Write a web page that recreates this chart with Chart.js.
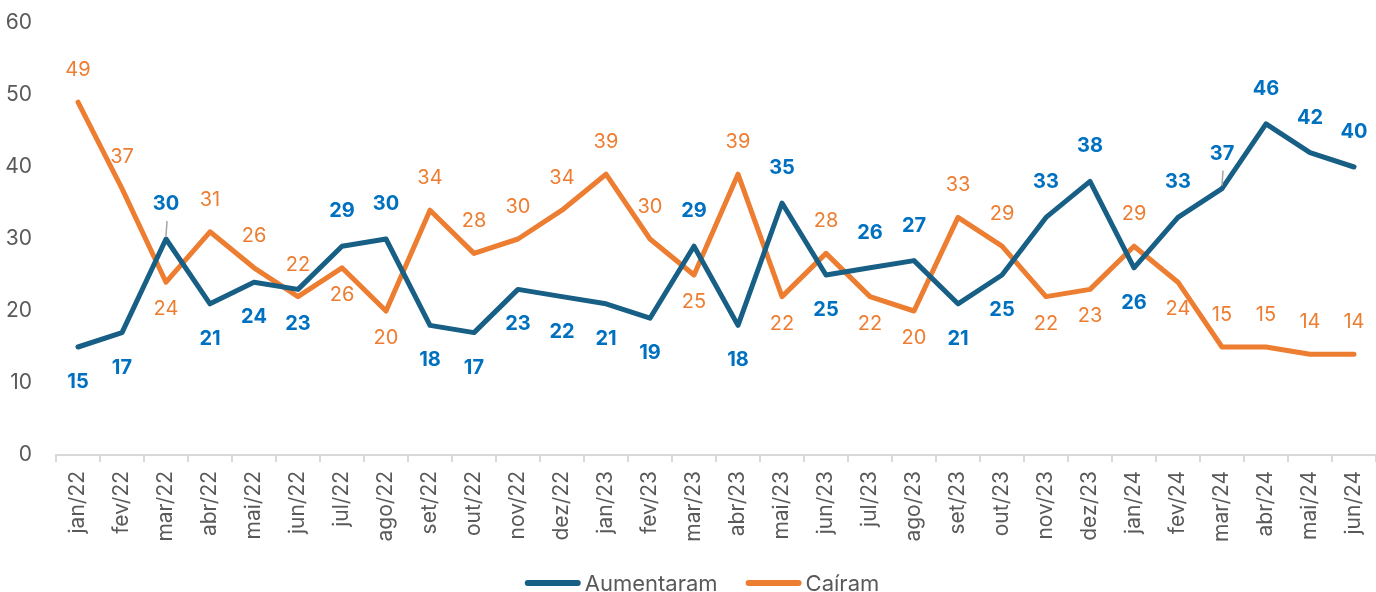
<!DOCTYPE html>
<html>
<head>
<meta charset="utf-8">
<script src="https://cdn.jsdelivr.net/npm/chart.js@4"></script>
<style>
  html, body { margin: 0; padding: 0; background: #fff; }
  #wrap { width: 1376px; height: 592px; }
</style>
</head>
<body>
<div id="wrap"><canvas id="myChart" width="1376" height="592"></canvas></div>
<script>
const months = ["jan/22","fev/22","mar/22","abr/22","mai/22","jun/22","jul/22","ago/22","set/22","out/22","nov/22","dez/22",
  "jan/23","fev/23","mar/23","abr/23","mai/23","jun/23","jul/23","ago/23","set/23","out/23","nov/23","dez/23",
  "jan/24","fev/24","mar/24","abr/24","mai/24","jun/24"];
const aumentaram = [15,17,30,21,24,23,29,30,18,17,23,22,21,19,29,18,35,25,26,27,21,25,33,38,26,33,37,46,42,40];
const cairam = [49,37,24,31,26,22,26,20,34,28,30,34,39,30,25,39,22,28,22,20,33,29,22,23,29,24,15,15,14,14];
// where each value label goes: a = above, b = below
const posAum = ["b","b","a","b","b","b","a","a","b","b","b","b","b","b","a","b","a","b","a","a","b","b","a","a","b","a","a","a","a","a"];
const posCai = ["a","a","b","a","a","a","b","b","a","a","a","a","a","a","b","a","b","a","b","b","a","a","b","b","a","b","a","a","a","a"];
const leaders = [2, 26]; // blue labels with a small leader line

const BLUE = "#185F85";
const BLUE_TXT = "#0070C0";
const ORANGE = "#ED7D31";
const GRAY = "#595959";
const FONT = "Inter, 'Liberation Sans', Arial, sans-serif";

// value labels drawn next to points
const valueLabels = {
  id: "valueLabels",
  afterDatasetsDraw(chart) {
    const ctx = chart.ctx;
    ctx.save();
    ctx.textAlign = "center";
    ctx.textBaseline = "middle";
    chart.data.datasets.forEach((ds, di) => {
      const meta = chart.getDatasetMeta(di);
      const pos = di === 0 ? posAum : posCai;
      ctx.font = (di === 0 ? "bold " : "") + "20px " + FONT;
      ctx.fillStyle = di === 0 ? BLUE_TXT : ORANGE;
      meta.data.forEach((pt, i) => {
        let off;
        if (di === 0) off = pos[i] === "a" ? -35 : 35;
        else off = pos[i] === "a" ? -32 : 27;
        ctx.fillText(ds.data[i], pt.x, pt.y + off);
        if (di === 0 && leaders.includes(i)) {
          ctx.strokeStyle = "#A6A6A6";
          ctx.lineWidth = 1.5;
          ctx.beginPath();
          ctx.moveTo(pt.x, pt.y - 3);
          ctx.lineTo(pt.x + 1, pt.y - 18);
          ctx.stroke();
        }
      });
    });
    ctx.restore();
  }
};

// legend at the bottom
const bottomLegend = {
  id: "bottomLegend",
  afterDraw(chart) {
    const ctx = chart.ctx;
    const items = chart.data.datasets.map(d => ({ text: d.label, color: d.borderColor }));
    ctx.save();
    ctx.font = "22px " + FONT;
    const lineW = 56, gap = 4, between = 28;
    let total = 0;
    items.forEach((it, i) => {
      total += lineW + gap + ctx.measureText(it.text).width;
      if (i < items.length - 1) total += between;
    });
    let x = 702 - total / 2;
    const y = 583;
    items.forEach(it => {
      ctx.strokeStyle = it.color;
      ctx.lineWidth = 6;
      ctx.lineCap = "round";
      ctx.beginPath();
      ctx.moveTo(x + 3, y);
      ctx.lineTo(x + lineW - 3, y);
      ctx.stroke();
      x += lineW + gap;
      ctx.fillStyle = GRAY;
      ctx.textBaseline = "middle";
      ctx.textAlign = "left";
      ctx.fillText(it.text, x, y + 1);
      x += ctx.measureText(it.text).width + between;
    });
    ctx.restore();
  }
};

const config = {
  type: "line",
  data: {
    labels: months,
    datasets: [
      {
        label: "Aumentaram",
        data: aumentaram,
        borderColor: BLUE,
        backgroundColor: BLUE,
        borderWidth: 5,
        pointRadius: 0,
        tension: 0,
        borderJoinStyle: "round",
        borderCapStyle: "round"
      },
      {
        label: "Caíram",
        data: cairam,
        borderColor: ORANGE,
        backgroundColor: ORANGE,
        borderWidth: 5,
        pointRadius: 0,
        tension: 0,
        borderJoinStyle: "round",
        borderCapStyle: "round"
      }
    ]
  },
  options: {
    responsive: false,
    animation: false,
    layout: { padding: { top: 23, right: 0, bottom: 0, left: 0 } },
    scales: {
      x: {
        offset: true,
        grid: {
          offset: true,
          drawOnChartArea: false,
          drawTicks: true,
          tickLength: 7,
          color: "#D9D9D9",
          lineWidth: 2
        },
        border: { display: true, color: "#D9D9D9", width: 2 },
        ticks: {
          autoSkip: false,
          maxRotation: 90,
          minRotation: 90,
          padding: 9,
          color: GRAY,
          font: { family: FONT, size: 21 }
        },
        afterFit(scale) {
          scale.height = 137;
          scale.paddingLeft = 0;
          scale.paddingRight = 0;
        }
      },
      y: {
        min: 0,
        max: 60,
        ticks: {
          stepSize: 10,
          padding: 16,
          color: GRAY,
          font: { family: FONT, size: 21 }
        },
        grid: { display: false },
        border: { display: false },
        afterFit(scale) {
          scale.width = 56;
          scale.paddingTop = 0;
          scale.paddingBottom = 0;
        }
      }
    },
    plugins: {
      legend: { display: false },
      tooltip: { enabled: false }
    }
  },
  plugins: [valueLabels, bottomLegend]
};
const myChart = new Chart(document.getElementById("myChart"), config);
</script>
</body>
</html>
